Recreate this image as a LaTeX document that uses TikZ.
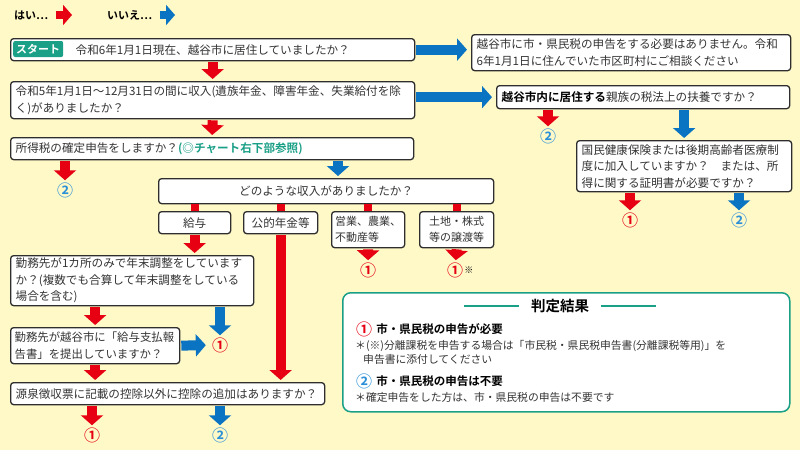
\documentclass[tikz,border=0pt]{standalone}
\usepackage{fontspec}
\setmainfont{Noto Sans CJK JP}[BoldFont={Noto Sans CJK JP Bold}]
\usetikzlibrary{positioning,arrows.meta}
\definecolor{bgyellow}{HTML}{FFF9C8}
\definecolor{yesred}{HTML}{E60012}
\definecolor{noblue}{HTML}{0A74C2}
\definecolor{twoblue}{HTML}{2C90D8}
\definecolor{chartteal}{HTML}{1BA088}
\definecolor{boxline}{HTML}{2E2E2E}
\definecolor{textgray}{HTML}{333333}

\begin{document}
\begin{tikzpicture}[x=1pt,y=-1pt]
\tikzstyle{every node}=[inner sep=0pt, text=textgray, font=\fontsize{11.6}{16.5}\selectfont]
\tikzstyle{qbox}=[draw=boxline, line width=1.3pt, fill=white, rounded corners=3pt,
                  anchor=north west, align=left, inner xsep=5pt]
\tikzstyle{kbox}=[qbox, align=center, inner xsep=3.5pt]
\tikzstyle{resone}=[text=yesred, font=\bfseries\fontsize{16}{16}\selectfont]
\tikzstyle{restwo}=[resone, text=twoblue]
\tikzstyle{yesarrow}=[draw=yesred, line width=10pt, -{Triangle[length=10pt,width=22pt]},
                      shorten <=1pt, shorten >=2pt]
\tikzstyle{noarrow}=[yesarrow, draw=noblue]
\tikzstyle{yesbar}=[draw=yesred, line width=8pt]
\tikzstyle{legyes}=[draw=yesred, line width=8pt, -{Triangle[length=9pt,width=20pt]}, shorten <=7pt]
\tikzstyle{legno}=[legyes, draw=noblue]
\tikzstyle{tealline}=[draw=chartteal, line width=1.2pt]

\fill[bgyellow] (0,0) rectangle (800,450);
\useasboundingbox (0,0) rectangle (800,450);

\node[anchor=west, text=black, font=\bfseries\fontsize{11}{11}\selectfont] (hai) at (14,15) {はい…};
\coordinate (haiend) at (72,15);
\node[anchor=west, text=black, font=\bfseries\fontsize{11}{11}\selectfont] (iie) at (107,15) {いいえ…};
\coordinate (iieend) at (175,15);

\node[qbox, text width=394pt, minimum height=22pt] (q1) at (10,38)
  {\hspace*{60pt}令和6年1月1日現在、越谷市に居住していましたか？};
\node[anchor=west, fill=chartteal, rounded corners=2pt, minimum width=50pt, minimum height=16pt,
      text=white, font=\bfseries\fontsize{11}{11}\selectfont] (start) at (13,49) {スタート};
\node[qbox, text width=309pt, minimum height=36pt] (qa) at (471,34)
  {越谷市に市・県民税の申告をする必要はありません。令和\\6年1月1日に住んでいた市区町村にご相談ください};
\node[qbox, text width=394pt, minimum height=37pt] (q2) at (10,81)
  {令和5年1月1日～12月31日の間に収入(遺族年金、障害年金、失業給付を除\\く)がありましたか？};
\node[qbox, text width=283pt, minimum height=23pt] (qb) at (496,85)
  {{\bfseries\color{black}越谷市内に居住する}親族の税法上の扶養ですか？};
\node[qbox, text width=393pt, minimum height=22pt] (q3) at (10,137)
  {所得税の確定申告をしますか？{\bfseries\color{chartteal}(◎チャート右下部参照)}};
\node[qbox, text width=205pt, minimum height=51pt] (qc) at (576,140)
  {国民健康保険または後期高齢者医療制\\度に加入していますか？　または、所\\得に関する証明書が必要ですか？};
\node[qbox, align=center, text width=325pt, minimum height=25pt] (q4) at (158,178)
  {どのような収入がありましたか？};
\coordinate (q4in) at (338,178);
\node[kbox, text width=65pt, minimum height=22pt] (k1) at (158,211) {給与};
\node[kbox, text width=67pt, minimum height=22pt] (k2) at (243,211) {公的年金等};
\node[kbox, align=left, text width=66pt, minimum height=36pt, font=\fontsize{11}{16}\selectfont] (k3) at (331,211)
  {営業、農業、\\不動産等};
\node[kbox, text width=67pt, minimum height=36pt, font=\fontsize{11}{16}\selectfont] (k4) at (419,211)
  {土地・株式\\等の譲渡等};
\node[qbox, text width=233pt, minimum height=50pt] (q5) at (10,255)
  {勤務先が1カ所のみで年末調整をしています\\か？(複数でも合算して年末調整をしている\\場合を含む)};
\node[qbox, inner xsep=4pt, text width=161pt, minimum height=36pt, font=\fontsize{11.4}{16.5}\selectfont] (q6) at (10,327)
  {勤務先が越谷市に「給与支払報\\告書」を提出していますか？};
\node[qbox, text width=304pt, minimum height=22pt] (q7) at (10,382)
  {源泉徴収票に記載の控除以外に控除の追加はありますか？};

\node[restwo] (rb) at (548,136) {②};
\node[resone] (rc1) at (630,220) {①};
\node[restwo] (rc2) at (739,220) {②};
\node[restwo] (r3) at (65,190) {②};
\node[resone] (rk3) at (368,270) {①};
\node[resone] (rk4) at (455,270) {①};
\node[right=1pt of rk4, text=black, font=\fontsize{9}{9}\selectfont] (rk4n) {※};
\node[resone] (r5) at (220,345) {①};
\node[resone] (r7a) at (92,435) {①};
\node[restwo] (r7b) at (220,435) {②};

\draw[legyes] (hai.east) -- (haiend);
\draw[legno] (iie.east) -- (iieend);
\draw[yesarrow] (q1.south) -- (q2.north);
\draw[noarrow, shorten >=4pt] (q1.east) -- (qa.west |- q1.east);
\draw[yesarrow] (q2.south) -- (q3.north);
\draw[noarrow, shorten >=4pt] (q2.east |- qb.west) -- (qb.west);
\draw[yesarrow] (qb.south -| rb) -- (rb);
\draw[noarrow] (qb.south -| qc.north) -- (qc.north);
\draw[yesarrow] (qc.south -| rc1) -- (rc1);
\draw[noarrow] (qc.south -| rc2) -- (rc2);
\draw[yesarrow] (q3.south -| r3) -- (r3);
\draw[noarrow] (q3.south -| q4in) -- (q4in);
\draw[yesbar] (q4.south -| k1.north) -- (k1.north);
\draw[yesbar] (q4.south -| k2.north) -- (k2.north);
\draw[yesbar] (q4.south -| k3.north) -- (k3.north);
\draw[yesbar] (q4.south -| k4.north) -- (k4.north);
\draw[yesarrow] (k1.south) -- (k1.south |- q5.north);
\draw[yesarrow] (k2.south) -- (k2.south |- q7.north);
\draw[yesarrow] (k3.south) -- (rk3);
\draw[yesarrow] (k4.south) -- (rk4);
\draw[yesarrow] (q5.south -| q6.north) -- (q6.north);
\draw[noarrow] (q5.south -| r5) -- (r5);
\draw[noarrow, shorten >=6pt] (q6.east) -- (r5.west);
\draw[yesarrow] (q6.south) -- (q6.south |- q7.north);
\draw[yesarrow] (q7.south -| r7a) -- (r7a);
\draw[noarrow] (q7.south -| r7b) -- (r7b);

\node[draw=chartteal, line width=1.5pt, rounded corners=8pt, fill=white, minimum width=447pt,
      minimum height=119pt, anchor=north west] (judge) at (342,292) {};
\node[text=black, font=\bfseries\fontsize{14.5}{14.5}\selectfont] (jt) at (560,306) {判定結果};
\draw[tealline] (jt.west) ++(-12,0) -- ++(-55,0);
\draw[tealline] (jt.east) ++(12,0) -- ++(55,0);
\node[resone] (j1) at (364,329) {①};
\node[right=4pt of j1, text=black, font=\bfseries\fontsize{11.5}{11.5}\selectfont] (j1t) {市・県民税の申告が必要};
\node[anchor=west, font=\fontsize{10.8}{13}\selectfont] (jn1) at (355,346)
  {＊(※)分離課税を申告する場合は「市民税・県民税申告書(分離課税等用)」を};
\node[anchor=west, font=\fontsize{10.8}{13}\selectfont] (jn2) at (363,359) {申告書に添付してください};
\node[restwo] (j2) at (364,381) {②};
\node[right=4pt of j2, text=black, font=\bfseries\fontsize{11.5}{11.5}\selectfont] (j2t) {市・県民税の申告は不要};
\node[anchor=west, font=\fontsize{10.8}{13}\selectfont] (jn3) at (355,397)
  {＊確定申告をした方は、市・県民税の申告は不要です};
\end{tikzpicture}
\end{document}
